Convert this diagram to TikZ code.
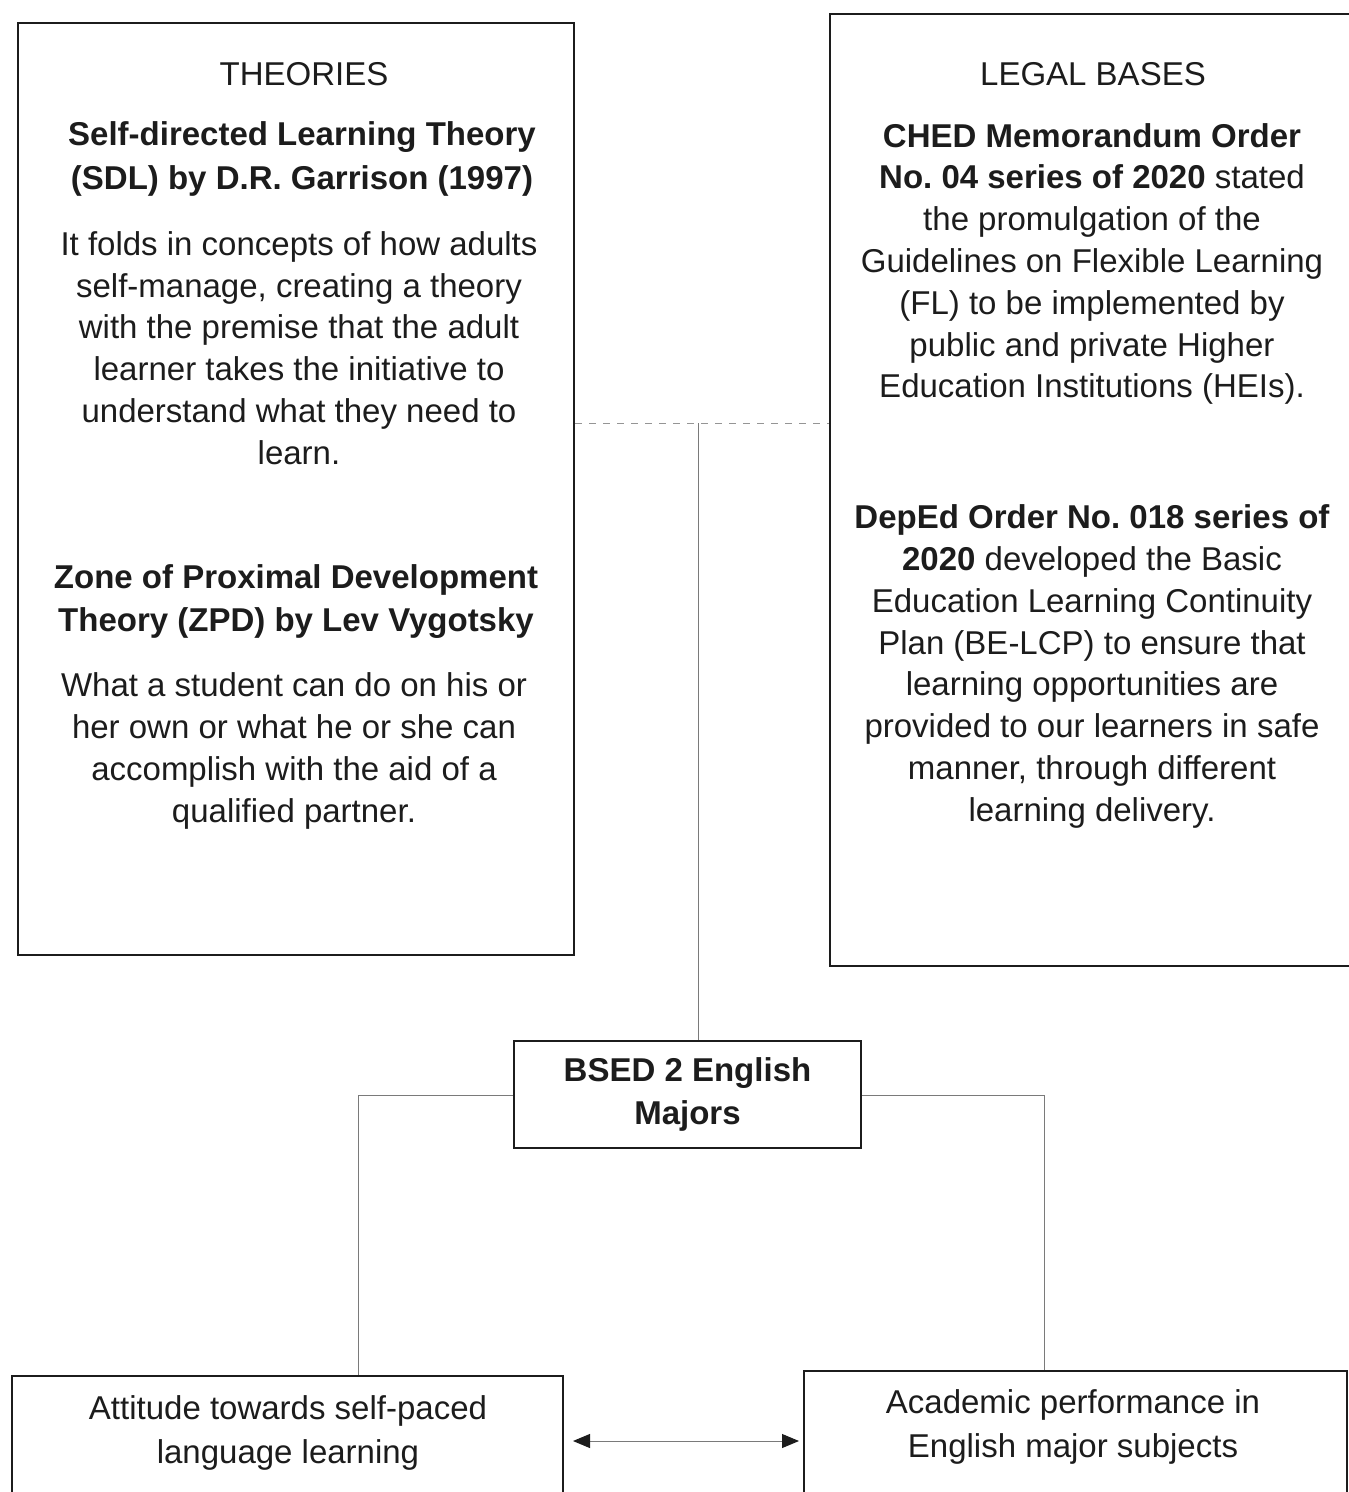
\documentclass[tikz,border=0pt]{standalone}
\usepackage{fontspec}
\setmainfont{Liberation Sans}
\usetikzlibrary{arrows.meta}
\frenchspacing
\definecolor{ink}{HTML}{1C1C1C}
\definecolor{thin}{HTML}{7A7A7A}
\tikzset{
  box/.style={draw=ink, line width=2pt, inner sep=0pt},
  txt/.style={text=ink, align=center, inner sep=0pt, font=\fontsize{33}{41.8}\selectfont},
  btxt/.style={txt, font=\fontsize{33}{43.5}\selectfont\bfseries},
  conn/.style={draw=thin, line width=1pt},
  dconn/.style={draw=thin!80, line width=1pt, dash pattern=on 7pt off 7pt},
  bigtip/.tip={Triangle[length=17pt,width=14pt,color=ink]},
}
\begin{document}
\begin{tikzpicture}[x=1pt,y=-1pt]
\useasboundingbox (0,0) rectangle (1349,1492);
\clip (0,0) rectangle (1349,1492);
\fill[white] (0,0) rectangle (1349,1492);
% boxes
\node[box, minimum width=556pt, minimum height=932pt] (theo) at (296,489) {};
\node[box, minimum width=540pt, minimum height=952pt] (legal) at (1100,490) {};
\node[box, minimum width=347pt, minimum height=107pt] (bsed) at (687.5,1094.5) {};
\node[box, minimum width=551pt, minimum height=140pt] (att) at (287.5,1446) {};
\node[box, minimum width=543pt, minimum height=145pt] (acad) at (1075.5,1443.5) {};
% texts left
\node[txt] (t1) at (304,74) {THEORIES};
\node[btxt] (t2) at (302,159) {Self-directed Learning Theory\\(SDL) by D.R. Garrison (1997)};
\node[txt] (t3) at (299,348) {It folds in concepts of how adults\\self-manage, creating a theory\\with the premise that the adult\\learner takes the initiative to\\understand what they need to\\learn.};
\node[btxt] (t4) at (296,601.5) {Zone of Proximal Development\\Theory (ZPD) by Lev Vygotsky};
\node[txt] (t5) at (294,751) {What a student can do on his or\\her own or what he or she can\\accomplish with the aid of a\\qualified partner.};
% texts right
\node[txt] (r1) at (1093,74) {LEGAL BASES};
\node[txt] (r2) at (1092,264) {\textbf{CHED Memorandum Order}\\\textbf{No. 04 series of 2020} stated\\the promulgation of the\\Guidelines on Flexible Learning\\(FL) to be implemented by\\public and private Higher\\Education Institutions (HEIs).};
\node[txt] (r3) at (1092,666.5) {\textbf{DepEd Order No. 018 series of}\\\textbf{2020} developed the Basic\\Education Learning Continuity\\Plan (BE-LCP) to ensure that\\learning opportunities are\\provided to our learners in safe\\manner, through different\\learning delivery.};
% bottom texts
\node[btxt] (b1) at (687.5,1094.5) {BSED 2 English\\Majors};
\node[txt, font=\fontsize{33}{44}\selectfont] (b2) at (288,1433) {Attitude towards self-paced\\language learning};
\node[txt, font=\fontsize{33}{44}\selectfont] (b3) at (1073,1427) {Academic performance in\\English major subjects};
% connectors
\coordinate (j) at (698,423);
\coordinate (al) at (358,1095);
\coordinate (ar) at (1044,1095);
\coordinate (ay) at (0,1441);
\draw[dconn] (theo.east |- j) -- (legal.west |- j);
\draw[conn] (j) -- (j |- bsed.north);
\draw[conn] (bsed.west |- al) -- (al) -- (al |- att.north);
\draw[conn] (bsed.east |- ar) -- (ar) -- (ar |- acad.north);
\draw[conn, bigtip-bigtip, shorten <=9pt, shorten >=4pt] (att.east |- ay) -- (acad.west |- ay);
\end{tikzpicture}
\end{document}
